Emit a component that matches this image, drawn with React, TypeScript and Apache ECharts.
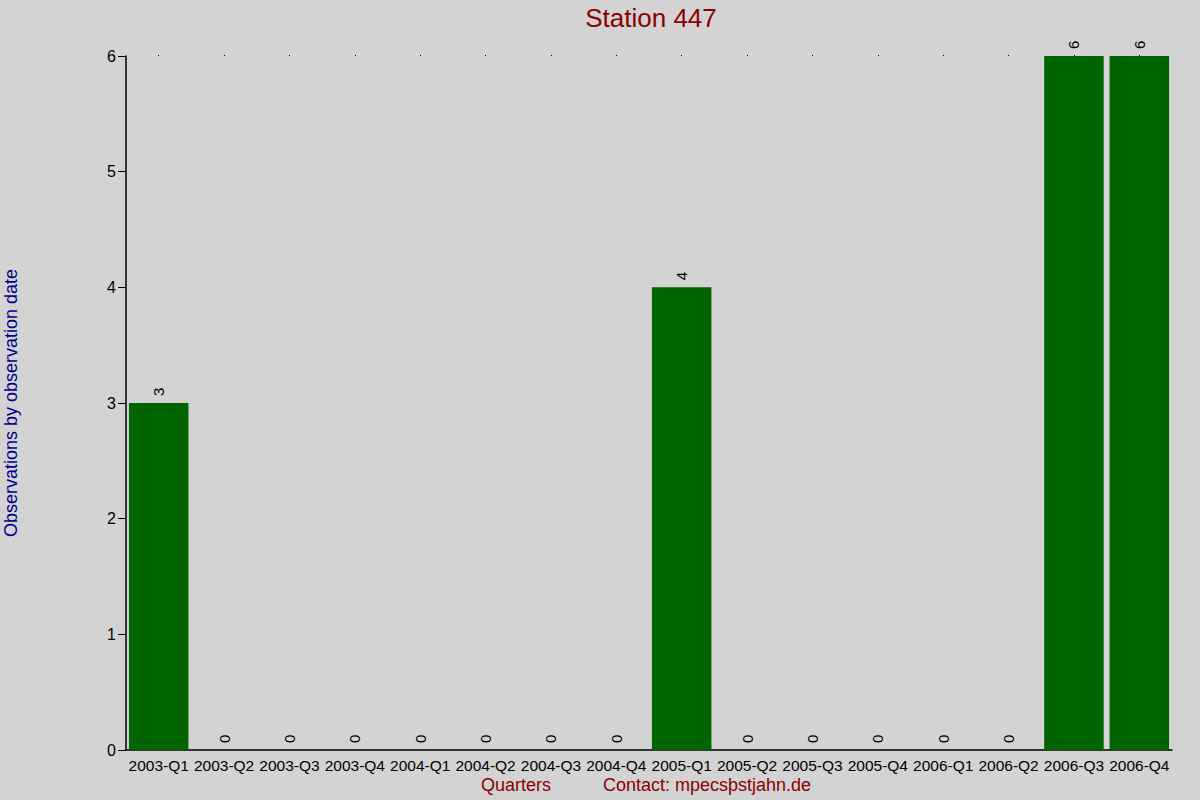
import React, { useRef, useEffect } from "react";
import * as echarts from "echarts";

const quarters = [
  "2003-Q1", "2003-Q2", "2003-Q3", "2003-Q4",
  "2004-Q1", "2004-Q2", "2004-Q3", "2004-Q4",
  "2005-Q1", "2005-Q2", "2005-Q3", "2005-Q4",
  "2006-Q1", "2006-Q2", "2006-Q3", "2006-Q4",
];
const observations = [3, 0, 0, 0, 0, 0, 0, 0, 4, 0, 0, 0, 0, 0, 6, 6];
const yTicks = { min: 0, max: 6, step: 1 };

const FONT = "'Liberation Sans', Arial, sans-serif";
const DARK_RED = "#8B0000";

const App = function () {
  const chart = useRef<HTMLDivElement>(null);
  useEffect(() => {
    if (!chart.current) return;
    let myChart = echarts.init(chart.current, undefined, { renderer: "svg" });
    let option = {
      animation: false,
      backgroundColor: "#d3d3d3",
      textStyle: { fontFamily: FONT },
      title: {
        text: "Station 447",
        left: 646,
        textAlign: "center",
        top: 0,
        textStyle: { color: DARK_RED, fontSize: 26, fontWeight: "normal", fontFamily: FONT },
      },
      grid: { left: 126, right: 28, top: 56, bottom: 50, containLabel: false, outerBoundsMode: "none" },
      xAxis: [
        {
          type: "category",
          data: quarters,
          axisLine: { lineStyle: { color: "#000", width: 1.5 } },
          axisTick: { show: false },
          axisLabel: { color: "#000", fontSize: 15.5, margin: 7, interval: 0, fontFamily: FONT },
        },
        {
          type: "category",
          data: quarters,
          position: "top",
          axisLine: { show: false },
          axisTick: { show: true, alignWithLabel: true, length: 1, lineStyle: { color: "#000" } },
          axisLabel: { show: false },
        },
      ],
      yAxis: {
        type: "value",
        min: yTicks.min,
        max: yTicks.max,
        interval: yTicks.step,
        name: "Observations by observation date",
        nameLocation: "middle",
        nameGap: 106,
        nameTextStyle: { color: "#00008B", fontSize: 18, fontFamily: FONT },
        axisLine: { show: true, lineStyle: { color: "#000", width: 1.5 } },
        axisTick: { show: true, length: 8, lineStyle: { color: "#000" } },
        axisLabel: { color: "#000", fontSize: 16, margin: 10, fontFamily: FONT },
        splitLine: { show: false },
      },
      series: [
        {
          type: "bar",
          data: observations,
          barCategoryGap: "9%",
          itemStyle: { color: "#006400" },
          label: {
            show: true,
            position: "top",
            rotate: 90,
            align: "left",
            verticalAlign: "middle",
            distance: 7,
            color: "#000",
            fontSize: 15,
            fontFamily: FONT,
          },
        },
      ],
      graphic: [
        {
          type: "text",
          left: 481,
          top: 776,
          style: { text: "Quarters", fill: DARK_RED, fontSize: 18, fontFamily: FONT },
        },
        {
          type: "text",
          left: 603,
          top: 776,
          style: { text: "Contact: mpecsþstjahn.de", fill: DARK_RED, fontSize: 18, fontFamily: FONT },
        },
      ],
    };
    myChart.setOption(option);
    return () => {
      myChart.dispose();
    };
  }, []);
  return (
    <div
      ref={chart}
      style={{ position: "absolute", left: 0, top: 0, width: 1200, height: 800 }}
    ></div>
  );
};
export default App;
